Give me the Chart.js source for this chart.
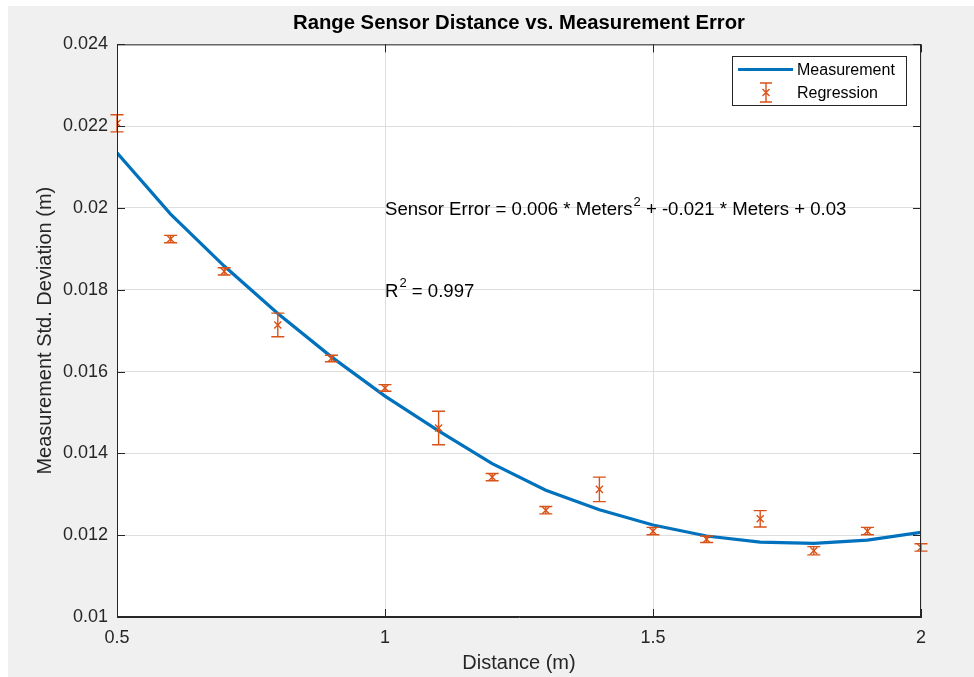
<!DOCTYPE html>
<html>
<head>
<meta charset="utf-8">
<title>Range Sensor Distance vs. Measurement Error</title>
<script src="https://cdn.jsdelivr.net/npm/chart.js@4.4.1/dist/chart.umd.min.js"></script>
<style>
    html, body { margin: 0; padding: 0; background: #ffffff; }
    #myChart { display: block; }
</style>
</head>
<body>
<canvas id="myChart" width="974" height="677"></canvas>
<script>
// distances (m) where the sensor was sampled
const distances = [0.5, 0.6, 0.7, 0.8, 0.9, 1.0, 1.1, 1.2, 1.3, 1.4, 1.5, 1.6, 1.7, 1.8, 1.9, 2.0];
// measured std. deviation (orange error bar series)
const measuredStd = [0.02207, 0.01924, 0.01845, 0.01714, 0.01632, 0.01560, 0.01462, 0.01342,
                     0.01261, 0.01312, 0.01210, 0.01190, 0.01240, 0.01162, 0.01210, 0.01170];
const measuredErr = [0.00021, 0.00009, 0.00009, 0.00029, 0.00008, 0.00008, 0.00041, 0.00009,
                     0.00009, 0.00030, 0.00009, 0.00008, 0.00020, 0.00010, 0.00009, 0.00009];
// fitted curve (blue line)
const fitCurve = [0.02135, 0.01985, 0.01858, 0.01742, 0.01636, 0.01540, 0.01455, 0.01375,
                  0.01310, 0.01262, 0.01225, 0.01198, 0.01183, 0.01180, 0.01188, 0.01207];

const xTicks = [0.5, 1, 1.5, 2];
const xTickLabels = ['0.5', '1', '1.5', '2'];
const yTicks = [0.010, 0.012, 0.014, 0.016, 0.018, 0.020, 0.022, 0.024];
const yTickLabels = ['0.01', '0.012', '0.014', '0.016', '0.018', '0.02', '0.022', '0.024'];

const seriesNames = ['Measurement', 'Regression'];
const chartTitle = 'Range Sensor Distance vs. Measurement Error';
const xTitle = 'Distance (m)';
const yTitle = 'Measurement Std. Deviation (m)';

// text annotations placed at data coords
const equationPos = {x: 1, y: 0.020};
const equationParts = ['Sensor Error = 0.006 * Meters', '2', ' + -0.021 * Meters + 0.03'];
const r2Pos = {x: 1, y: 0.018};
const r2Parts = ['R', '2', ' = 0.997'];

const BLUE = '#0072BD';
const ORANGE = '#D95319';
const AXIS = '#262626';
const FONT = "'Liberation Sans', Arial, Helvetica, sans-serif";

Chart.defaults.font.family = FONT;
Chart.defaults.color = AXIS;

// figure background + white axes box
const backgroundPlugin = {
    id: 'figureBackground',
    beforeDraw(chart) {
        const {ctx, chartArea: a} = chart;
        ctx.save();
        ctx.fillStyle = '#ffffff';
        ctx.fillRect(0, 0, chart.width, chart.height);
        ctx.fillStyle = '#f0f0f0';
        ctx.fillRect(8, 6, chart.width - 8, chart.height - 6);
        ctx.fillStyle = '#ffffff';
        ctx.fillRect(a.left, a.top, a.right - a.left, a.bottom - a.top);
        ctx.restore();
    }
};

// error bars for the Regression series
const errorBarPlugin = {
    id: 'errorBars',
    afterDatasetsDraw(chart) {
        const {ctx, scales: {x, y}} = chart;
        ctx.save();
        ctx.strokeStyle = ORANGE;
        ctx.lineWidth = 1.4;
        for (let i = 0; i < distances.length; i++) {
            const px = x.getPixelForValue(distances[i]);
            const top = y.getPixelForValue(measuredStd[i] + measuredErr[i]);
            const bot = y.getPixelForValue(measuredStd[i] - measuredErr[i]);
            ctx.beginPath();
            ctx.moveTo(px, top); ctx.lineTo(px, bot);
            ctx.moveTo(px - 6.5, top); ctx.lineTo(px + 6.5, top);
            ctx.moveTo(px - 6.5, bot); ctx.lineTo(px + 6.5, bot);
            ctx.stroke();
        }
        ctx.restore();
    }
};

function drawSuper(ctx, parts, px, py, size) {
    ctx.font = size + 'px ' + FONT;
    ctx.fillText(parts[0], px, py);
    let w = ctx.measureText(parts[0]).width;
    ctx.font = '13px ' + FONT;
    ctx.fillText(parts[1], px + w + 1, py - 8);
    w += ctx.measureText(parts[1]).width + 1;
    ctx.font = size + 'px ' + FONT;
    ctx.fillText(parts[2], px + w, py);
}

// box, inward ticks, annotations, legend
const overlayPlugin = {
    id: 'overlay',
    afterDraw(chart) {
        const {ctx, chartArea: a, scales: {x, y}} = chart;
        ctx.save();
        // axes box and inward ticks
        ctx.strokeStyle = AXIS;
        ctx.lineWidth = 1;
        ctx.strokeRect(a.left + 0.5, a.top + 0.5, a.right - a.left - 1, a.bottom - a.top - 1);
        ctx.beginPath();
        xTicks.forEach(v => {
            const px = Math.round(x.getPixelForValue(v)) + 0.5;
            ctx.moveTo(px, a.bottom); ctx.lineTo(px, a.bottom - 8);
            ctx.moveTo(px, a.top); ctx.lineTo(px, a.top + 8);
        });
        yTicks.forEach(v => {
            const py = Math.round(y.getPixelForValue(v)) + 0.5;
            ctx.moveTo(a.left, py); ctx.lineTo(a.left + 8, py);
            ctx.moveTo(a.right, py); ctx.lineTo(a.right - 8, py);
        });
        ctx.stroke();

        // annotations
        ctx.fillStyle = '#000000';
        ctx.textAlign = 'left';
        ctx.textBaseline = 'middle';
        drawSuper(ctx, equationParts, x.getPixelForValue(equationPos.x), y.getPixelForValue(equationPos.y) + 2, 18.6);
        drawSuper(ctx, r2Parts, x.getPixelForValue(r2Pos.x), y.getPixelForValue(r2Pos.y) + 2, 18.6);

        // legend
        const lx = 732, ly = 56, lw = 174, lh = 49;
        ctx.fillStyle = '#ffffff';
        ctx.fillRect(lx, ly, lw, lh);
        ctx.strokeStyle = AXIS;
        ctx.strokeRect(lx + 0.5, ly + 0.5, lw, lh);
        ctx.strokeStyle = BLUE;
        ctx.lineWidth = 3;
        ctx.beginPath();
        ctx.moveTo(738, 69.5); ctx.lineTo(793, 69.5);
        ctx.stroke();
        ctx.strokeStyle = ORANGE;
        ctx.lineWidth = 1.4;
        ctx.beginPath();
        ctx.moveTo(766, 83); ctx.lineTo(766, 102);
        ctx.moveTo(760, 83); ctx.lineTo(772, 83);
        ctx.moveTo(760, 102); ctx.lineTo(772, 102);
        ctx.moveTo(762.5, 89); ctx.lineTo(769.5, 96);
        ctx.moveTo(769.5, 89); ctx.lineTo(762.5, 96);
        ctx.stroke();
        ctx.fillStyle = '#000000';
        ctx.font = '16px ' + FONT;
        ctx.fillText(seriesNames[0], 797, 71);
        ctx.fillText(seriesNames[1], 797, 94);
        ctx.restore();
    }
};

const ctx = document.getElementById('myChart');
const chartGraphic = new Chart(ctx, {
    data: {
        datasets: [
            {
                type: 'line',
                label: seriesNames[0],
                data: distances.map((d, i) => ({x: d, y: fitCurve[i]})),
                borderColor: BLUE,
                borderWidth: 3.2,
                pointRadius: 0,
                tension: 0,
                fill: false,
                order: 2
            },
            {
                type: 'scatter',
                label: seriesNames[1],
                data: distances.map((d, i) => ({x: d, y: measuredStd[i]})),
                borderColor: ORANGE,
                backgroundColor: ORANGE,
                pointStyle: 'crossRot',
                pointRadius: 5,
                borderWidth: 1.4,
                order: 1
            }
        ]
    },
    options: {
        responsive: false,
        devicePixelRatio: 1,
        animation: false,
        events: [],
        layout: {padding: {left: 0, top: 0, right: 53, bottom: 0}},
        plugins: {
            legend: {display: false},
            tooltip: {enabled: false},
            title: {
                display: true,
                text: chartTitle,
                fullSize: false,
                color: '#000000',
                font: {size: 20.3, weight: 'bold'},
                padding: {top: 11, bottom: 9}
            }
        },
        scales: {
            x: {
                type: 'linear',
                min: 0.5,
                max: 2,
                afterBuildTicks: s => { s.ticks = xTicks.map(v => ({value: v})); },
                afterFit: s => { s.height = 60; },
                ticks: {
                    callback: (v, i) => xTickLabels[i],
                    font: {size: 18},
                    color: AXIS,
                    padding: 10,
                    maxRotation: 0
                },
                grid: {color: '#dedede', drawTicks: false},
                border: {display: true, color: AXIS},
                title: {display: true, text: xTitle, font: {size: 20}, color: AXIS, padding: {top: 0, bottom: 2}}
            },
            y: {
                type: 'linear',
                min: 0.010,
                max: 0.024,
                afterBuildTicks: s => { s.ticks = yTicks.map(v => ({value: v})); },
                afterFit: s => { s.width = 117; },
                ticks: {
                    callback: (v, i) => yTickLabels[i],
                    font: {size: 18},
                    color: AXIS,
                    padding: 9
                },
                grid: {color: '#dedede', drawTicks: false},
                border: {display: true, color: AXIS},
                title: {display: true, text: yTitle, font: {size: 20}, color: AXIS, padding: {top: 33, bottom: 0}}
            }
        }
    },
    plugins: [backgroundPlugin, errorBarPlugin, overlayPlugin]
});
</script>
</body>
</html>
